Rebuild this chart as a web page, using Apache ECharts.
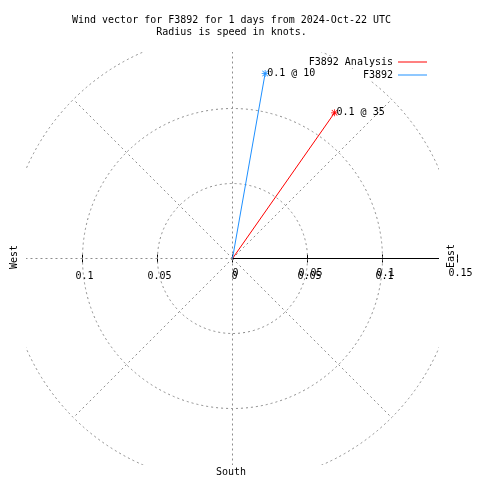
<!DOCTYPE html>
<html>
<head>
<meta charset="utf-8">
<script src="https://cdn.jsdelivr.net/npm/echarts@6/dist/echarts.min.js"></script>
<style>html,body{margin:0;padding:0;background:#fff}#c{width:480px;height:480px}</style>
</head>
<body>
<div id="c"></div>
<script>
// ---- data ----
const titleLines = ['Wind vector for F3892 for 1 days from 2024-Oct-22 UTC', 'Radius is speed in knots.'];
const seriesNames = ['F3892 Analysis', 'F3892'];
const speeds = [0.1186, 0.1253];      // knots
const directions = [35, 10];           // degrees, clockwise from north
const seriesColors = ['#ff0000', '#1e90ff'];
const rings = [0.05, 0.1, 0.15];
const spokes = [0, 45, 90, 135, 180, 225, 270, 315];
const xTickValues = [-0.1, -0.05, 0, 0.05, 0.1, 0.15];
const xLabelValues = [-0.1, -0.05, 0, 0.05, 0.1];
const rLabelValues = [0, 0.05, 0.1, 0.15];
const compassNames = ['West', 'East', 'South'];

const FONT = 'DejaVu Sans Mono';
const XR = 0.13733, YR = 0.13767, XMAX2 = 0.152, K = 1500;
const GRID_TOP = 52;
const AXIS_OFFSET = -(YR * K); // move bottom axis up to y = 0

const chart = echarts.init(document.getElementById('c'), null, {renderer: 'canvas'});

const vectorSeries = seriesNames.map((name, i) => {
  const a = directions[i] * Math.PI / 180;
  const s = speeds[i];
  return {
    name: name,
    type: 'line',
    xAxisIndex: 0, yAxisIndex: 0,
    z: 5,
    showSymbol: true,
    symbol: 'path://M4,0h1v9h-1z M0,4h9v1h-9z M0.6,1.3L1.3,0.6L8.4,7.7L7.7,8.4z M7.7,0.6L8.4,1.3L1.3,8.4L0.6,7.7z',
    symbolSize: 7,
    lineStyle: {color: seriesColors[i], width: 1},
    itemStyle: {color: seriesColors[i], borderWidth: 0},
    label: {show: false},
    data: [
      {value: [0, 0], symbol: 'none'},
      {value: [s * Math.sin(a), s * Math.cos(a)],
       label: {show: true, position: 'right', distance: -1.5,
               formatter: s.toFixed(1) + ' @ ' + directions[i],
               color: '#000', fontFamily: FONT, fontSize: 10}}
    ]
  };
});

const gridSeries = {
  type: 'custom',
  xAxisIndex: 0, yAxisIndex: 0,
  clip: true,
  z: 1,
  silent: true,
  data: [[0, 0]],
  renderItem: function (params, api) {
    const c = api.coord([0, 0]);
    const px = v => api.size([v, 0])[0];
    const dash = {fill: 'none', stroke: '#8c8c8c', lineWidth: 1, lineDash: [2, 3]};
    const children = [];
    rings.forEach(r => children.push({type: 'circle', shape: {cx: c[0], cy: c[1], r: px(r)}, style: dash}));
    const R = px(rings[rings.length - 1]);
    spokes.forEach(d => {
      const a = d * Math.PI / 180;
      children.push({type: 'line', shape: {x1: c[0], y1: c[1], x2: c[0] + R * Math.sin(a), y2: c[1] - R * Math.cos(a)}, style: dash});
    });
    children.push({type: 'line', shape: {x1: c[0], y1: c[1], x2: c[0] + R, y2: c[1]}, style: {stroke: '#000', lineWidth: 1}});
    return {type: 'group', children: children};
  }
};

const legendBase = {
  orient: 'vertical', align: 'right', right: 53,
  icon: 'rect', itemWidth: 29, itemHeight: 1,
  backgroundColor: '#fff', z: 4,
  itemStyle: {borderWidth: 0},
  lineStyle: {width: 0},
  textStyle: {fontFamily: FONT, fontSize: 10, color: '#000'}
};

const option = {
  animation: false,
  backgroundColor: '#fff',
  title: {
    text: titleLines.join('\n'), left: 231.5, top: 14, textAlign: 'center', padding: 0,
    textStyle: {fontFamily: FONT, fontSize: 10, fontWeight: 'normal', color: '#000', lineHeight: 12.6}
  },
  legend: [
    Object.assign({}, legendBase, {data: [{name: seriesNames[0], itemStyle: {color: seriesColors[0], borderWidth: 0}}],
                                   top: 56, padding: [1, 0, 1, 0]}),
    Object.assign({}, legendBase, {data: [{name: seriesNames[1], itemStyle: {color: seriesColors[1], borderWidth: 0}}],
                                   top: 69, padding: [1, 0, 1, 20]})
  ],
  grid: [
    {left: 26.5, top: GRID_TOP, width: 2 * XR * K, height: 2 * YR * K, outerBoundsMode: 'none'},
    {left: 26.5, top: GRID_TOP, width: (XR + XMAX2) * K, height: 2 * YR * K, outerBoundsMode: 'none'}
  ],
  xAxis: [
    {gridIndex: 0, type: 'value', min: -XR, max: XR, show: false},
    {gridIndex: 1, type: 'value', min: -XR, max: XMAX2, position: 'bottom', offset: AXIS_OFFSET,
     axisLine: {show: false, onZero: false}, splitLine: {show: false},
     axisTick: {show: true, customValues: xTickValues, length: 4, lineStyle: {color: '#000'}},
     axisLabel: {customValues: xLabelValues, formatter: v => String(Math.abs(+(+v).toFixed(3))),
                 margin: 13, fontFamily: FONT, fontSize: 10, color: '#000', padding: [0, 0, 0, 4]}},
    {gridIndex: 1, type: 'value', min: -XR, max: XMAX2, position: 'bottom', offset: AXIS_OFFSET,
     axisLine: {show: false, onZero: false}, splitLine: {show: false},
     axisTick: {show: true, inside: true, customValues: xTickValues, length: 4, lineStyle: {color: '#000'}},
     axisLabel: {customValues: rLabelValues, formatter: v => String(Math.abs(+(+v).toFixed(3))),
                 margin: 10, fontFamily: FONT, fontSize: 10, color: '#000', padding: [0, 0, 0, 6]}}
  ],
  yAxis: [
    {gridIndex: 0, type: 'value', min: -YR, max: YR, show: false},
    {gridIndex: 1, type: 'value', min: -YR, max: YR, show: false}
  ],
  graphic: [
    {type: 'text', x: 14, y: 257, rotation: Math.PI / 2,
     style: {text: compassNames[0], font: '10px "' + FONT + '"', fill: '#000', align: 'center', verticalAlign: 'middle'}},
    {type: 'text', x: 451, y: 256, rotation: Math.PI / 2,
     style: {text: compassNames[1], font: '10px "' + FONT + '"', fill: '#000', align: 'center', verticalAlign: 'middle'}},
    {type: 'text', x: 231, y: 472,
     style: {text: compassNames[2], font: '10px "' + FONT + '"', fill: '#000', align: 'center', verticalAlign: 'middle'}}
  ],
  series: [gridSeries].concat(vectorSeries)
};
chart.setOption(option);
</script>
</body>
</html>
